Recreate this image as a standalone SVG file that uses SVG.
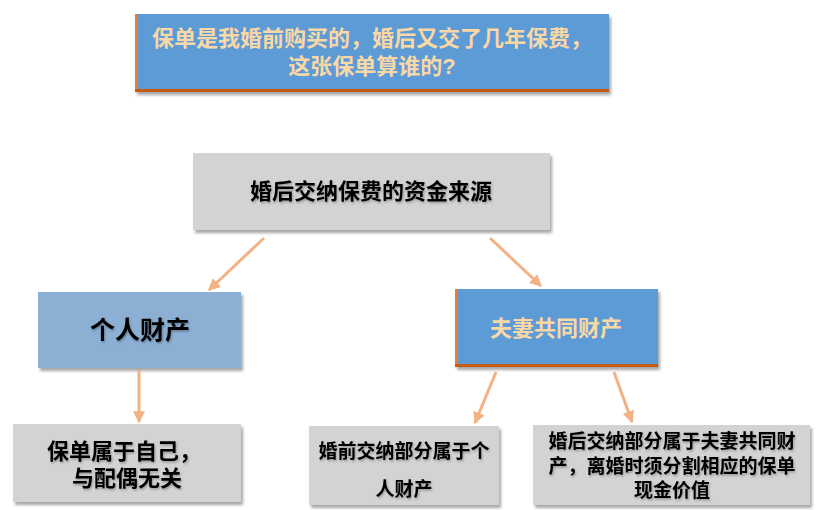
<svg xmlns="http://www.w3.org/2000/svg" width="835" height="510" viewBox="0 0 835 510">
<defs>
<filter id="sh" x="-5%" y="-5%" width="115%" height="125%">
<feDropShadow dx="2" dy="3" stdDeviation="1.5" flood-color="#000" flood-opacity="0.35"/>
</filter>
<filter id="tsh" x="-5%" y="-20%" width="110%" height="150%">
<feDropShadow dx="1" dy="1.5" stdDeviation="0.8" flood-color="#000" flood-opacity="0.3"/>
</filter>
<marker id="ah" viewBox="0 0 10 10" refX="9" refY="5" markerWidth="4" markerHeight="4" orient="auto">
<path d="M0,0 L10,5 L0,10 z" fill="#F4B183"/>
</marker>
</defs>
<style>
text{font-family:"Liberation Sans","Noto Sans CJK SC",sans-serif;font-weight:bold;text-anchor:middle}
.blue{fill:#5B9BD5}
.lblue{fill:#8CB0D4}
.gray{fill:#D3D3D3}
.peach{fill:#FAD8A6}
.dark{fill:#000}
.conn{stroke:#F4B183;stroke-width:3;fill:none;marker-end:url(#ah)}
</style>
<rect width="835" height="510" fill="#fff"/>
<g id="title">
<rect x="135" y="14" width="474" height="78" class="blue" filter="url(#sh)"/>
<rect x="135" y="14" width="3" height="78" fill="#ED7D31"/>
<rect x="135" y="89" width="474" height="3" fill="#C55A11"/>
<text x="372" y="46" font-size="22" class="peach">保单是我婚前购买的，婚后又交了几年保费，</text>
<text x="372" y="74" font-size="22" class="peach">这张保单算谁的?</text>
</g>
<g id="source">
<rect x="193" y="153" width="357" height="77" class="gray" filter="url(#sh)"/>
<text x="371" y="199" font-size="22" class="dark" filter="url(#tsh)">婚后交纳保费的资金来源</text>
</g>
<g id="personal">
<rect x="38" y="292" width="203" height="76" class="lblue" filter="url(#sh)"/>
<text x="140" y="339" font-size="25" class="dark" filter="url(#tsh)">个人财产</text>
</g>
<g id="joint">
<rect x="455" y="289" width="203" height="78" class="blue" filter="url(#sh)"/>
<rect x="455" y="289" width="3" height="78" fill="#ED7D31"/>
<rect x="455" y="364" width="203" height="3" fill="#C55A11"/>
<text x="556" y="336" font-size="22" class="peach">夫妻共同财产</text>
</g>
<g id="self">
<rect x="13" y="424" width="228" height="78" class="gray" filter="url(#sh)"/>
<text x="124" y="459" font-size="22" class="dark" filter="url(#tsh)">保单属于自己，</text>
<text x="127" y="486" font-size="22" class="dark" filter="url(#tsh)">与配偶无关</text>
</g>
<g id="premarital">
<rect x="309" y="426" width="190" height="79" class="gray" filter="url(#sh)"/>
<text x="404" y="458" font-size="19" class="dark" filter="url(#tsh)">婚前交纳部分属于个</text>
<text x="404" y="496" font-size="19" class="dark" filter="url(#tsh)">人财产</text>
</g>
<g id="postmarital">
<rect x="533" y="425" width="277" height="80" class="gray" filter="url(#sh)"/>
<text x="672" y="448" font-size="19" class="dark" filter="url(#tsh)">婚后交纳部分属于夫妻共同财</text>
<text x="672" y="473" font-size="19" class="dark" filter="url(#tsh)">产，离婚时须分割相应的保单</text>
<text x="672" y="497" font-size="19" class="dark" filter="url(#tsh)">现金价值</text>
</g>
<g id="connectors">
<line x1="264" y1="238" x2="209" y2="290" class="conn"/>
<line x1="490" y1="238" x2="541" y2="286" class="conn"/>
<line x1="139" y1="370" x2="139" y2="422" class="conn"/>
<line x1="496" y1="372" x2="475" y2="423" class="conn"/>
<line x1="614" y1="372" x2="632" y2="422" class="conn"/>
</g>
</svg>
